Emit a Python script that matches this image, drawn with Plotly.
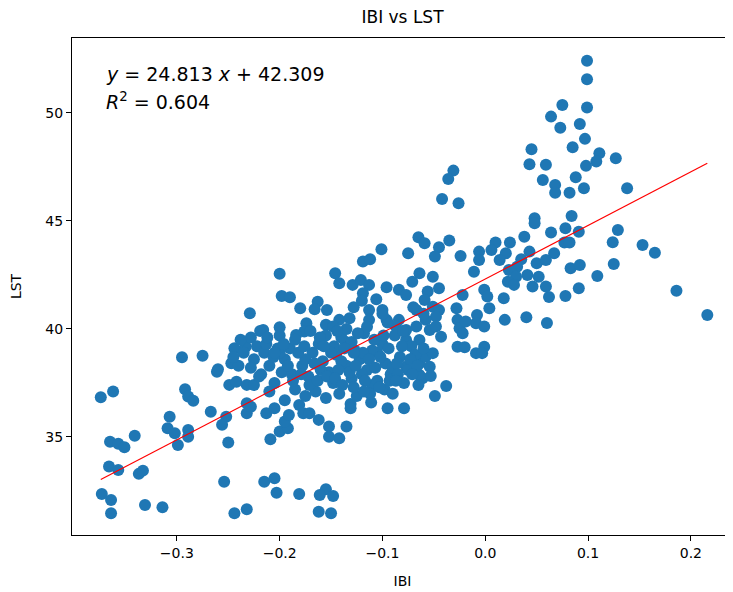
import plotly.graph_objects as go

# ---- data (IBI, LST) ----
ibi_top = [0.099, 0.099, 0.075, 0.099, 0.064, 0.073, 0.092, 0.097, 0.085, 0.111,
           0.108, 0.098, 0.127, 0.088, 0.068, 0.068, 0.082, 0.096, 0.138, 0.045,
           0.043, 0.059, 0.056, -0.031, -0.036, -0.042, -0.026]
lst_top = [52.42, 51.56, 50.37, 50.25, 49.83, 49.32, 49.49, 48.80, 48.41, 48.13,
           47.75, 47.55, 47.90, 47.02, 46.67, 46.31, 46.31, 46.51, 46.51, 48.32,
           47.63, 47.60, 46.90, 47.33, 46.94, 46.02, 45.82]

ibi_right = [0.084, 0.078, 0.064, 0.091, 0.077, 0.082, 0.129, 0.124, 0.153, 0.165,
             0.067, 0.125, 0.083, 0.092, 0.109, 0.091, 0.078, 0.062, 0.186, 0.216,
             0.060]
lst_right = [45.23, 44.66, 44.46, 44.50, 44.00, 44.00, 44.58, 44.01, 43.89, 43.53,
             43.50, 43.01, 42.81, 42.96, 42.45, 41.88, 41.53, 41.48, 41.77, 40.65,
             40.28]

ibi_mid = [0.048, 0.048, -0.065, -0.059, -0.035, -0.045, -0.049, -0.075, -0.024, -0.006,
           -0.006, -0.011, 0.010, 0.006, 0.024, 0.020, 0.014, 0.038, 0.043, 0.035,
           0.031, 0.023, 0.050, 0.059, 0.041, 0.052, 0.059, 0.046, 0.030, 0.022,
           0.028, -0.064, -0.071, -0.051, -0.045, -0.084, -0.077, -0.056, -0.059, -0.001,
           0.002, 0.004, -0.022, 0.018, -0.067, -0.051, -0.045, -0.048, -0.028, -0.027,
           -0.025, -0.008, -0.009, -0.001, 0.019, 0.040, -0.019, -0.022, -0.043, -0.084,
           -0.077, -0.067, -0.077, -0.064, -0.054, -0.048, -0.058, -0.027, -0.020, -0.009,
           -0.001, -0.003, -0.077, -0.064, -0.058, -0.051, -0.054,
           -0.038, -0.049, -0.079, -0.061, -0.053, -0.064]
lst_mid = [45.12, 44.89, 44.25, 43.97, 44.09, 43.78, 43.35, 43.50, 43.38, 43.58,
           43.19, 42.65, 44.00, 43.66, 44.00, 43.50, 43.19, 44.27, 43.58, 43.23,
           42.88, 42.73, 43.04, 43.19, 42.50, 42.42, 41.96, 41.96, 42.42, 42.19,
           42.04, 42.58, 42.19, 42.42, 41.88, 41.81, 41.57, 41.73, 41.34, 41.81,
           41.50, 40.96, 41.57, 41.42, 40.88, 41.03, 40.88, 40.57, 40.96, 40.42,
           40.03, 40.65, 40.26, 40.11, 40.42, 40.54, 40.34, 39.80, 39.64, 40.42,
           39.95, 40.11, 39.49, 39.49, 39.95, 40.11, 40.42, 39.18, 39.15, 38.88,
           39.18, 38.88, 38.25, 38.41, 38.72, 38.88, 38.25,
           37.36, 36.90, 36.33, 37.72, 37.82, 37.87]

ibi_left = [-0.200, -0.101, -0.119, -0.112, -0.146, -0.142, -0.129, -0.121, -0.113, -0.119,
            -0.096, -0.198, -0.190, -0.180, -0.163, -0.166, -0.154, -0.106, -0.113, -0.100,
            -0.229, -0.128, -0.142, -0.132, -0.155, -0.148, -0.200, -0.216, -0.174, -0.176,
            -0.184, -0.136, -0.113, -0.096, -0.087,
            -0.295, -0.275, -0.260, -0.244, -0.247, -0.233]
lst_left = [42.55, 43.69, 43.12, 43.23, 42.58, 42.12, 42.04, 42.27, 42.04, 41.65,
            41.93, 41.53, 41.47, 40.96, 41.26, 40.91, 40.88, 41.38, 40.88, 40.88,
            40.73, 41.00, 40.42, 40.50, 40.19, 40.11, 40.08, 39.95, 40.26, 39.88,
            39.72, 39.41, 40.42, 40.42, 40.11,
            38.69, 38.76, 38.13, 39.11, 38.41, 39.18]

ibi_low = [-0.374, -0.362, -0.292, -0.289, -0.284, -0.261, -0.249, -0.242, -0.232, -0.307,
           -0.309, -0.302, -0.289, -0.289, -0.299, -0.267, -0.252, -0.256, -0.232, -0.232,
           -0.341, -0.365, -0.357, -0.351, -0.250, -0.366, -0.357, -0.337, -0.333, -0.254,
           -0.373, -0.364, -0.364, -0.331, -0.314, -0.244, -0.232,
           -0.209, -0.200, -0.192, -0.195, -0.191, -0.213, -0.205, -0.228, -0.181, -0.177,
           -0.171, -0.162, -0.152, -0.152, -0.142, -0.135, -0.131, -0.131, -0.111, -0.095,
           -0.215, -0.205, -0.203, -0.181, -0.155, -0.148, -0.161, -0.162, -0.150]
lst_low = [36.84, 37.10, 37.21, 36.87, 36.68, 38.02, 37.41, 37.56, 37.41, 35.94,
           35.40, 35.17, 35.32, 35.01, 34.63, 36.17, 35.94, 35.56, 36.56, 36.10,
           35.05, 34.78, 34.68, 34.52, 34.74, 33.63, 33.47, 33.29, 33.44, 32.93,
           32.36, 32.08, 31.47, 31.85, 31.75, 31.47, 31.65,
           34.89, 35.25, 35.40, 35.71, 36.02, 36.10, 36.33, 36.40, 36.48, 36.10,
           36.10, 35.79, 35.48, 35.01, 34.94, 35.48, 36.53, 36.33, 36.59, 36.33,
           32.93, 33.09, 32.42, 32.36, 32.58, 32.27, 32.31, 31.54, 31.47]

ibi_core = [-0.228, -0.222, -0.215, -0.225, -0.210, -0.218, -0.205, -0.198, -0.195, -0.190,
            -0.185, -0.200, -0.178, -0.172, -0.168, -0.162, -0.158, -0.152, -0.148, -0.145,
            -0.140, -0.135, -0.130, -0.127, -0.122, -0.118, -0.115, -0.110, -0.105, -0.100,
            -0.097, -0.092, -0.088, -0.083, -0.079, -0.072, -0.068, -0.060, -0.185, -0.175,
            -0.165, -0.155, -0.142, -0.125, -0.112, -0.098, -0.210, -0.195, -0.170, -0.155,
            -0.135, -0.115, -0.200, -0.188, -0.160, -0.140, -0.120, -0.105, -0.090, -0.075,
            -0.065, -0.130, -0.110, -0.147, -0.175, -0.235, -0.240, -0.225, -0.080, -0.095,
            -0.060, -0.070, -0.100, -0.120]
lst_core = [39.6, 39.2, 38.9, 38.6, 38.3, 37.9, 37.5, 38.0, 38.6, 39.1,
            39.5, 39.7, 38.3, 37.8, 38.9, 39.3, 38.5, 38.0, 37.5, 38.8,
            39.6, 38.3, 37.7, 39.0, 38.6, 39.8, 38.1, 37.4, 38.9, 39.3,
            38.4, 37.9, 39.7, 38.7, 37.5, 39.2, 38.8, 39.1, 37.2, 36.9,
            37.1, 36.8, 37.0, 36.9, 37.0, 37.2, 37.1, 36.7, 39.9, 39.7,
            40.0, 40.1, 38.9, 37.9, 38.1, 38.5, 37.9, 37.6, 38.2, 38.1,
            37.4, 39.4, 39.0, 39.2, 38.6, 38.9, 38.3, 37.4, 39.9, 40.3,
            40.7, 41.0, 40.7, 41.3]

ibi_core2 = [-0.192, -0.182, -0.176, -0.166, -0.161, -0.150, -0.143, -0.137, -0.132, -0.126,
             -0.119, -0.113, -0.108, -0.102, -0.094, -0.086, -0.081, -0.073, -0.066, -0.187,
             -0.179, -0.171, -0.163, -0.154, -0.146, -0.139, -0.128, -0.117, -0.107, -0.093,
             -0.085, -0.213, -0.206, -0.219, -0.202, -0.157, -0.144, -0.124, -0.099, -0.071,
             -0.245, -0.238, -0.228, -0.220, -0.212, -0.205, -0.196,
             -0.128, -0.118, -0.103, -0.087, -0.090]
lst_core2 = [38.3, 38.9, 39.2, 38.4, 39.6, 38.9, 38.1, 39.1, 38.0, 38.3,
             38.9, 38.6, 39.5, 38.7, 39.1, 38.4, 39.2, 38.6, 38.3, 37.6,
             37.9, 37.4, 37.6, 37.8, 37.7, 37.4, 38.9, 37.6, 38.2, 37.6,
             37.9, 39.3, 38.7, 39.9, 39.1, 39.2, 39.9, 39.8, 39.7, 37.9,
             38.7, 39.5, 38.2, 37.8, 39.6, 38.9, 39.3,
             37.3, 37.1, 37.3, 37.6, 37.0]

slope = 24.813
intercept = 42.309
r2 = 0.604

ibi = ibi_top + ibi_right + ibi_mid + ibi_left + ibi_low + ibi_core + ibi_core2
lst = lst_top + lst_right + lst_mid + lst_left + lst_low + lst_core + lst_core2
assert len(ibi) == len(lst), (len(ibi), len(lst))

x_line = [min(ibi), max(ibi)]
y_line = [slope * v + intercept for v in x_line]

FONT = "DejaVu Sans, Verdana, sans-serif"

fig = go.Figure()
fig.add_trace(go.Scatter(
    x=ibi, y=lst, mode="markers",
    marker=dict(color="#1f77b4", size=12, line=dict(width=0)),
    showlegend=False, hoverinfo="x+y"))
fig.add_trace(go.Scatter(
    x=x_line, y=y_line, mode="lines",
    line=dict(color="red", width=1.2), showlegend=False))

fig.add_annotation(
    xref="paper", yref="paper", x=0.049, y=0.953, xanchor="left", yanchor="top",
    text=f"<i>y</i> = {slope:.3f} <i>x</i> + {intercept:.3f}",
    showarrow=False, font=dict(family=FONT, size=19, color="black"), align="left")
fig.add_annotation(
    xref="paper", yref="paper", x=0.049, y=0.901, xanchor="left", yanchor="top",
    text=f"<i>R</i><sup>2</sup> = {r2:.3f}",
    showarrow=False, font=dict(family=FONT, size=19, color="black"), align="left")

axis_common = dict(
    showline=True, linecolor="black", linewidth=1,
    ticks="outside", ticklen=5, tickwidth=1, tickcolor="black",
    showgrid=False, zeroline=False, automargin=False,
    tickfont=dict(family=FONT, size=14, color="black"),
)

fig.update_layout(
    width=725, height=584,
    margin=dict(l=64, r=0, t=30, b=57),
    paper_bgcolor="white", plot_bgcolor="white",
    title=dict(text="IBI vs LST", xref="paper", x=0.5, xanchor="center",
               yref="container", y=0.985, yanchor="middle",
               font=dict(family=FONT, size=17, color="black")),
    xaxis=dict(range=[-0.402, 0.241], tickvals=[-0.3, -0.2, -0.1, 0.0, 0.1, 0.2],
               tickformat=".1f", mirror=True,
               title=dict(text="IBI", font=dict(family=FONT, size=14, color="black"), standoff=16),
               **axis_common),
    yaxis=dict(range=[30.46, 53.47], tickvals=[35, 40, 45, 50], mirror=False,
               title=dict(text="LST", font=dict(family=FONT, size=14, color="black"), standoff=22),
               **axis_common),
    font=dict(family=FONT),
)

fig.write_html("out.html")
